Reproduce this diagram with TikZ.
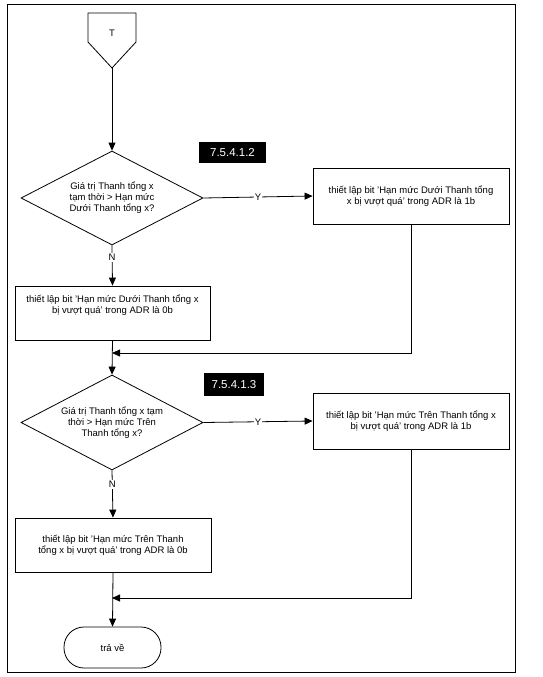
\documentclass[tikz,border=0pt]{standalone}
\usepackage{fontspec}
\setmainfont{Liberation Sans}
\usetikzlibrary{shapes.geometric,arrows.meta}

\begin{document}
\begin{tikzpicture}[x=1pt,y=-1pt,line width=0.8pt,
    font=\fontsize{9.5}{11}\selectfont,
    >={Triangle[length=8pt,width=7pt]},
    box/.style={draw,rectangle,align=center,inner sep=2pt},
    cond/.style={draw,diamond,aspect=1.94,align=center,inner sep=0pt,minimum width=182pt,minimum height=94pt},
    tag/.style={fill=black,text=white,font=\fontsize{11.5}{13}\selectfont,inner sep=0pt},
    yn/.style={fill=white,inner sep=1pt}]
    \useasboundingbox (0,0) rectangle (542,677);
    \draw[line width=1pt] (7,5) rectangle (515,672);
    % T connector
    \draw (88,13) -- (136,13) -- (136,42) -- (112,68) -- (88,42) -- cycle;
    \node (T) at (112,33) {T};
    \coordinate (Ttip) at (112,68);
    % first check
    \node[cond] (d1) at (112,198) {Giá trị Thanh tổng x\\tạm thời > Hạn mức\\Dưới Thanh tổng x?};
    \node[tag,minimum width=67pt,minimum height=21pt] (s1) at (232.5,152.5) {7.5.4.1.2};
    \node[box,minimum width=196pt,minimum height=56pt] (y1) at (411,196) {thiết lập bit 'Hạn mức Dưới Thanh tổng\\x bị vượt quá' trong ADR là 1b};
    \node[box,minimum width=195pt,minimum height=54pt] (n1) at (112.5,313) {thiết lập bit 'Hạn mức Dưới Thanh tổng x\\bị vượt quá' trong ADR là 0b\\[6pt]};
    \coordinate (j1) at (112,353);
    % second check
    \node[cond,minimum height=95pt] (d2) at (112,422.5) {Giá trị Thanh tổng x tạm\\thời > Hạn mức Trên\\Thanh tổng x?};
    \node[tag,minimum width=60pt,minimum height=23pt] (s2) at (234,384.5) {7.5.4.1.3};
    \node[box,minimum width=196pt,minimum height=56pt] (y2) at (411,421) {thiết lập bit 'Hạn mức Trên Thanh tổng x\\bị vượt quá' trong ADR là 1b};
    \node[box,minimum width=196pt,minimum height=54pt] (n2) at (113,545) {thiết lập bit 'Hạn mức Trên Thanh\\tổng x bị vượt quá' trong ADR là 0b};
    \coordinate (j2) at (112,598);
    \node[draw,rectangle,rounded corners=20pt,minimum width=97pt,minimum height=41pt] (ret) at (112.5,647.5) {trả về};
    % connectors
    \draw[->] (Ttip) -- (d1.north);
    \draw[->] (d1.east) -- node[yn] {Y} (y1.west);
    \draw[->] (d1.south) -- node[yn,pos=0.3] {N} (n1.north);
    \draw[->] (y1.south) |- (j1);
    \draw[->] (n1.south) -- (d2.north);
    \draw[->] (d2.east) -- node[yn] {Y} (y2.west);
    \draw[->] (d2.south) -- node[yn,pos=0.3] {N} (n2.north);
    \draw[->] (y2.south) |- (j2);
    \draw[->] (n2.south) -- (ret.north);
\end{tikzpicture}
\end{document}
